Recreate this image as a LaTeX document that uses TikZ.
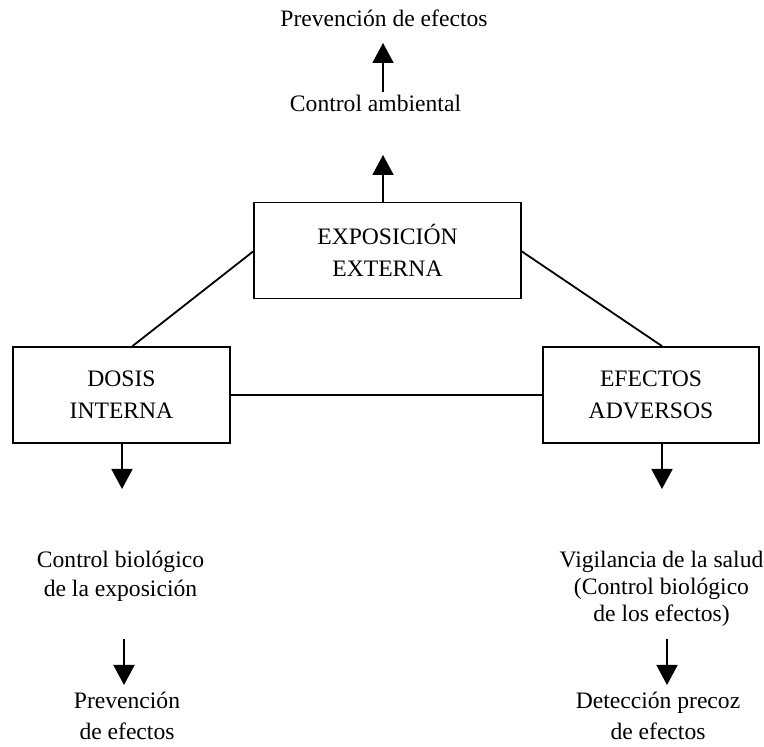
\documentclass[tikz,border=0pt]{standalone}
\usepackage{fontspec}
\setmainfont{Liberation Serif}
\usepackage{tikz}
\usetikzlibrary{arrows.meta}

\begin{document}
\begin{tikzpicture}[x=1pt,y=1pt,line width=1.8pt,
  caja/.style={draw,minimum height=96pt,align=center,
    font=\fontsize{23.6}{32}\selectfont},
  nota/.style={align=center,anchor=base,inner sep=0pt,
    font=\fontsize{23.6}{29}\selectfont},
  flecha/.style={-{Triangle[width=21pt,length=20pt]}}]
\useasboundingbox (0,0) rectangle (764,747);
      % cajas
      \node[caja,minimum width=267pt] (expo) at (387.5,496.5) {EXPOSICIÓN\\EXTERNA};
      \node[caja,minimum width=217pt] (dosis) at (121.5,352) {DOSIS\\INTERNA};
      \node[caja,minimum width=216pt] (efectos) at (651,352) {EFECTOS\\ADVERSOS};
      \draw ([xshift=11pt]dosis.north) -- ([yshift=-1pt]expo.west);
      \draw ([xshift=11pt]efectos.north) -- ([yshift=-1pt]expo.east);
      \draw (dosis.east) -- (efectos.west);
      % textos
      \node[nota] (prevA) at (384,720) {Prevención de efectos};
      \node[nota] (ambiental) at (375.5,635) {Control ambiental};
      \node[nota] (biologico) at (120.5,150) {Control biológico\\de la exposición};
      \node[nota,font=\fontsize{23.6}{31}\selectfont] (prevB) at (127,7) {Prevención\\de efectos};
      \node[nota,font=\fontsize{23.6}{27}\selectfont] (salud) at (661.5,125) {Vigilancia de la salud\\(Control biológico\\de los efectos)};
      \node[nota,font=\fontsize{23.6}{31}\selectfont] (deteccion) at (658,7) {Detección precoz\\de efectos};
      % flechas
      \coordinate (pA) at (383,592);
      \coordinate (pB) at (383,704);
      \coordinate (pC) at (122,258);
      \coordinate (pD) at (124,62);
      \coordinate (pE) at (662,258);
      \coordinate (pF) at (667,62);
      \draw[flecha] (expo.north -| pA) -- (pA);
      \draw[flecha] ([yshift=3pt]ambiental.north -| pB) -- (pB);
      \draw[flecha] (dosis.south -| pC) -- (pC);
      \draw[flecha] ([yshift=-36pt]biologico.south -| pD) -- (pD);
      \draw[flecha] (efectos.south -| pE) -- (pE);
      \draw[flecha] ([yshift=-11pt]salud.south -| pF) -- (pF);
\end{tikzpicture}
\end{document}
